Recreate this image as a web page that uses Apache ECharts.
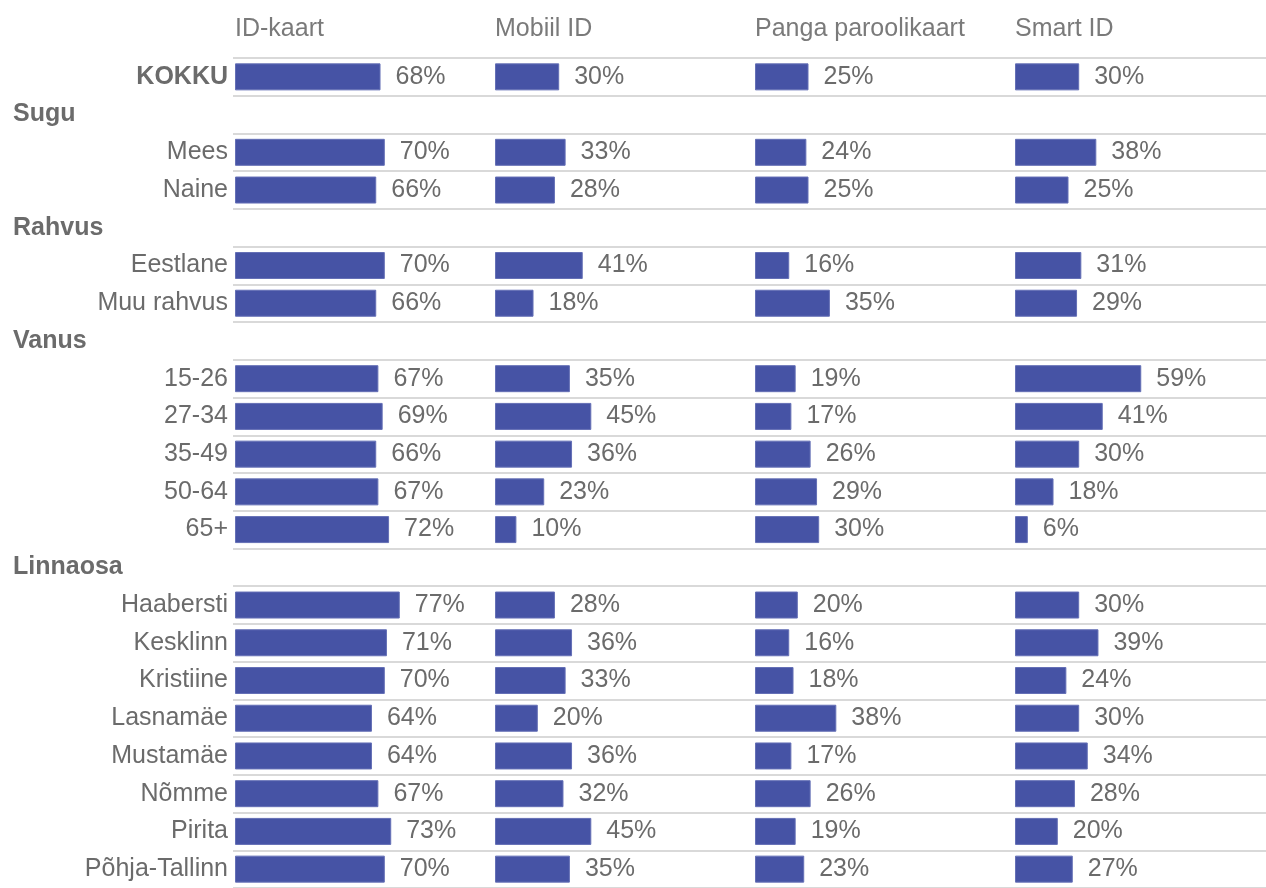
<!DOCTYPE html>
<html>
<head>
<meta charset="utf-8">
<title>Autentimisvahendid</title>
<script src="https://cdn.jsdelivr.net/npm/echarts@6/dist/echarts.min.js"></script>
<style>
  html, body { margin: 0; padding: 0; background: #fff; }
  #chart { width: 1266px; height: 888px; }
</style>
</head>
<body>
<div id="chart"></div>
<script>
// rows top-to-bottom, group headers have no values
var rowLabels = ['KOKKU', 'Sugu', 'Mees', 'Naine', 'Rahvus', 'Eestlane', 'Muu rahvus',
  'Vanus', '15-26', '27-34', '35-49', '50-64', '65+',
  'Linnaosa', 'Haabersti', 'Kesklinn', 'Kristiine', 'Lasnamäe', 'Mustamäe', 'Nõmme', 'Pirita', 'Põhja-Tallinn'];
var groupHeaders = ['Sugu', 'Rahvus', 'Vanus', 'Linnaosa'];
var panelNames = ['ID-kaart', 'Mobiil ID', 'Panga paroolikaart', 'Smart ID'];

// values for the non-header rows, in row order
var idKaart = [68, 70, 66, 70, 66, 67, 69, 66, 67, 72, 77, 71, 70, 64, 64, 67, 73, 70];
var mobiilId = [30, 33, 28, 41, 18, 35, 45, 36, 23, 10, 28, 36, 33, 20, 36, 32, 45, 35];
var pangaKaart = [25, 24, 25, 16, 35, 19, 17, 26, 29, 30, 20, 16, 18, 38, 17, 26, 19, 23];
var smartId = [30, 38, 25, 31, 29, 59, 41, 30, 18, 6, 30, 39, 24, 30, 34, 28, 20, 27];

var panelValues = [idKaart, mobiilId, pangaKaart, smartId];

var barColor = '#4653a5';
var textColor = '#6b6b6b';
var fontFam = '"Liberation Sans", Arial, sans-serif';
var rowH = 37.9;
var top0 = 58;
var gridH = rowH * rowLabels.length;

// put nulls in the header rows
function expand(vals) {
  var out = [];
  var k = 0;
  rowLabels.forEach(function (r) {
    if (groupHeaders.indexOf(r) >= 0) out.push(null);
    else out.push(vals[k++]);
  });
  return out;
}

var grids = [{left: 233, right: 0, top: top0, height: gridH}];
var xAxes = [{gridIndex: 0, type: 'value', show: false, min: 0, max: 100}];
var yAxes = [{
  gridIndex: 0,
  type: 'category',
  inverse: true,
  data: rowLabels,
  boundaryGap: true,
  axisLine: {show: false},
  axisTick: {show: false},
  splitLine: {show: true, interval: 0, lineStyle: {color: '#d9d9d9', width: 2}},
  axisLabel: {
    interval: 0,
    margin: 5,
    fontSize: 25,
    fontFamily: fontFam,
    color: textColor,
    formatter: function (v) {
      if (groupHeaders.indexOf(v) >= 0) return '{g|' + v + '}';
      if (v === 'KOKKU') return '{b|' + v + '}';
      return v;
    },
    rich: {
      g: {fontWeight: 'bold', fontSize: 25, fontFamily: fontFam, color: textColor, width: 215, align: 'left'},
      b: {fontWeight: 'bold', fontSize: 25, fontFamily: fontFam, color: textColor}
    }
  }
}];
var series = [];
var titles = [];

panelValues.forEach(function (vals, i) {
  var left = 235 + 260 * i;
  grids.push({left: left, width: 214, top: top0, height: gridH});
  xAxes.push({gridIndex: i + 1, type: 'value', show: false, min: 0, max: 100});
  yAxes.push({gridIndex: i + 1, type: 'category', inverse: true, data: rowLabels, show: false});
  series.push({
    name: panelNames[i],
    type: 'bar',
    xAxisIndex: i + 1,
    yAxisIndex: i + 1,
    data: expand(vals),
    barWidth: 27,
    itemStyle: {color: barColor, borderColor: '#6570b6', borderWidth: 1},
    label: {
      show: true,
      position: 'right',
      distance: 15,
      formatter: '{c}%',
      fontSize: 25,
      fontFamily: fontFam,
      color: textColor
    },
    silent: true
  });
  titles.push({
    text: panelNames[i],
    left: left,
    top: 17,
    padding: 0,
    textStyle: {fontSize: 25, fontWeight: 'normal', fontFamily: fontFam, color: '#7a7a7a'}
  });
});

var chart = echarts.init(document.getElementById('chart'));
chart.setOption({
  animation: false,
  title: titles,
  grid: grids,
  xAxis: xAxes,
  yAxis: yAxes,
  series: series
});
</script>
</body>
</html>
